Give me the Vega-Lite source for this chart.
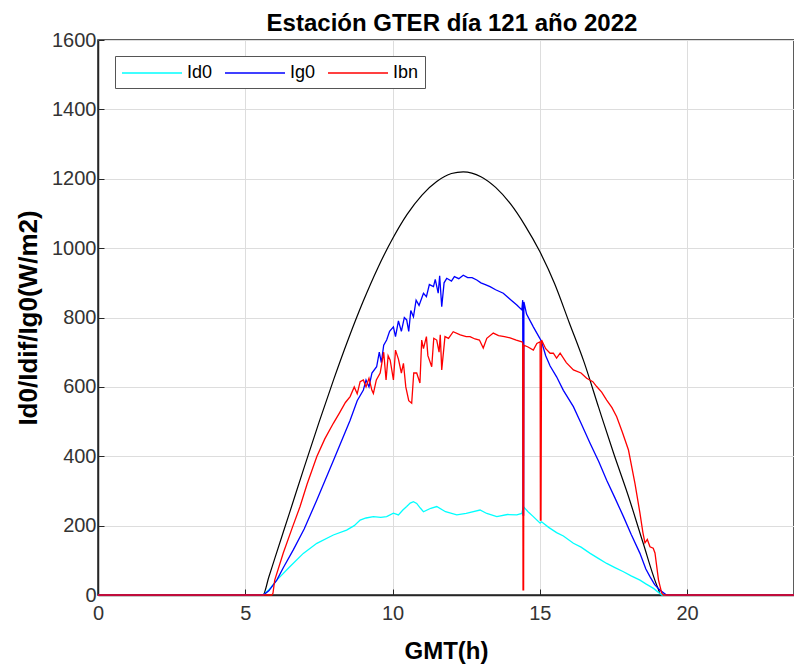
{
  "$schema": "https://vega.github.io/schema/vega-lite/v6.json",
  "autosize": {"type": "none"},
  "padding": {"left": 98, "top": 40, "right": 0, "bottom": 76},
  "width": 696,
  "height": 555,
  "background": "white",
  "title": {"text": "Estación GTER día 121 año 2022", "fontSize": 24, "font": "Liberation Sans", "fontWeight": "bold", "color": "#000000", "offset": -6, "dx": 6, "anchor": "middle"},
  "config": {
    "view": {"stroke": "#262626", "strokeWidth": 1.5},
    "font": "Liberation Sans",
    "axis": {"labelFont": "Liberation Sans", "titleFont": "Liberation Sans", "labelColor": "#333333", "titleColor": "#000000", "domainColor": "#262626", "domainWidth": 1.5, "tickColor": "#262626", "gridColor": "#dddddd", "gridWidth": 1, "labelFontSize": 20, "titleFontWeight": "bold", "labelFlush": false}
  },
  "datasets": {
    "d": [
      {"t":0,"v":0,"s":"Ext"},{"t":5.6,"v":0,"s":"Ext"},{"t":5.8,"v":52,"s":"Ext"},{"t":6,"v":105,"s":"Ext"},{"t":6.5,"v":236,"s":"Ext"},{"t":7,"v":368,"s":"Ext"},{"t":7.5,"v":497,"s":"Ext"},{"t":8,"v":621,"s":"Ext"},{"t":8.5,"v":738,"s":"Ext"},{"t":9,"v":846,"s":"Ext"},{"t":9.5,"v":943,"s":"Ext"},{"t":10,"v":1027,"s":"Ext"},{"t":10.5,"v":1098,"s":"Ext"},{"t":11,"v":1153,"s":"Ext"},{"t":11.5,"v":1192,"s":"Ext"},{"t":12,"v":1215,"s":"Ext"},{"t":12.4,"v":1220,"s":"Ext"},{"t":13,"v":1206,"s":"Ext"},{"t":13.5,"v":1175,"s":"Ext"},{"t":14,"v":1128,"s":"Ext"},{"t":14.5,"v":1065,"s":"Ext"},{"t":15,"v":990,"s":"Ext"},{"t":15.5,"v":898,"s":"Ext"},{"t":16,"v":785,"s":"Ext"},{"t":16.5,"v":672,"s":"Ext"},{"t":17,"v":540,"s":"Ext"},{"t":17.5,"v":410,"s":"Ext"},{"t":18,"v":287,"s":"Ext"},{"t":18.5,"v":152,"s":"Ext"},{"t":19,"v":22,"s":"Ext"},{"t":19.12,"v":0,"s":"Ext"},{"t":23.63,"v":0,"s":"Ext"},

      {"t":0,"v":0,"s":"Id0"},{"t":5.61,"v":0,"s":"Id0"},{"t":5.8,"v":15,"s":"Id0"},{"t":6.07,"v":43,"s":"Id0"},{"t":6.52,"v":82,"s":"Id0"},{"t":6.97,"v":120,"s":"Id0"},{"t":7.43,"v":149,"s":"Id0"},{"t":7.99,"v":173,"s":"Id0"},{"t":8.44,"v":187,"s":"Id0"},{"t":8.7,"v":200,"s":"Id0"},{"t":8.9,"v":216,"s":"Id0"},{"t":9.1,"v":222,"s":"Id0"},{"t":9.35,"v":226,"s":"Id0"},{"t":9.6,"v":224,"s":"Id0"},{"t":9.8,"v":226,"s":"Id0"},{"t":10.03,"v":236,"s":"Id0"},{"t":10.2,"v":231,"s":"Id0"},{"t":10.35,"v":245,"s":"Id0"},{"t":10.48,"v":255,"s":"Id0"},{"t":10.6,"v":265,"s":"Id0"},{"t":10.71,"v":269,"s":"Id0"},{"t":10.82,"v":264,"s":"Id0"},{"t":10.95,"v":250,"s":"Id0"},{"t":11.05,"v":240,"s":"Id0"},{"t":11.3,"v":250,"s":"Id0"},{"t":11.5,"v":255,"s":"Id0"},{"t":11.8,"v":240,"s":"Id0"},{"t":12.18,"v":231,"s":"Id0"},{"t":12.5,"v":235,"s":"Id0"},{"t":12.97,"v":245,"s":"Id0"},{"t":13.2,"v":235,"s":"Id0"},{"t":13.54,"v":226,"s":"Id0"},{"t":13.9,"v":232,"s":"Id0"},{"t":14.22,"v":231,"s":"Id0"},{"t":14.39,"v":235,"s":"Id0"},{"t":14.44,"v":255,"s":"Id0"},{"t":14.6,"v":240,"s":"Id0"},{"t":14.78,"v":226,"s":"Id0"},{"t":15.01,"v":207,"s":"Id0"},{"t":15.06,"v":211,"s":"Id0"},{"t":15.3,"v":195,"s":"Id0"},{"t":15.57,"v":180,"s":"Id0"},{"t":15.8,"v":170,"s":"Id0"},{"t":16.14,"v":149,"s":"Id0"},{"t":16.4,"v":138,"s":"Id0"},{"t":16.71,"v":120,"s":"Id0"},{"t":17,"v":105,"s":"Id0"},{"t":17.27,"v":91,"s":"Id0"},{"t":17.55,"v":79,"s":"Id0"},{"t":17.84,"v":67,"s":"Id0"},{"t":18.1,"v":55,"s":"Id0"},{"t":18.4,"v":43,"s":"Id0"},{"t":18.6,"v":32,"s":"Id0"},{"t":18.86,"v":19,"s":"Id0"},{"t":19.14,"v":0,"s":"Id0"},{"t":23.63,"v":0,"s":"Id0"},

      {"t":0,"v":0,"s":"Ig0"},{"t":5.61,"v":0,"s":"Ig0"},{"t":5.8,"v":12,"s":"Ig0"},{"t":6.07,"v":43,"s":"Ig0"},{"t":6.3,"v":80,"s":"Ig0"},{"t":6.63,"v":130,"s":"Ig0"},{"t":7,"v":190,"s":"Ig0"},{"t":7.43,"v":274,"s":"Ig0"},{"t":8,"v":389,"s":"Ig0"},{"t":8.56,"v":504,"s":"Ig0"},{"t":8.8,"v":560,"s":"Ig0"},{"t":9.01,"v":591,"s":"Ig0"},{"t":9.1,"v":620,"s":"Ig0"},{"t":9.2,"v":600,"s":"Ig0"},{"t":9.3,"v":640,"s":"Ig0"},{"t":9.46,"v":658,"s":"Ig0"},{"t":9.55,"v":700,"s":"Ig0"},{"t":9.62,"v":670,"s":"Ig0"},{"t":9.7,"v":720,"s":"Ig0"},{"t":9.8,"v":735,"s":"Ig0"},{"t":9.9,"v":760,"s":"Ig0"},{"t":10.03,"v":773,"s":"Ig0"},{"t":10.1,"v":745,"s":"Ig0"},{"t":10.2,"v":790,"s":"Ig0"},{"t":10.3,"v":760,"s":"Ig0"},{"t":10.4,"v":800,"s":"Ig0"},{"t":10.48,"v":793,"s":"Ig0"},{"t":10.55,"v":760,"s":"Ig0"},{"t":10.62,"v":820,"s":"Ig0"},{"t":10.71,"v":802,"s":"Ig0"},{"t":10.8,"v":850,"s":"Ig0"},{"t":10.9,"v":835,"s":"Ig0"},{"t":11.05,"v":870,"s":"Ig0"},{"t":11.15,"v":860,"s":"Ig0"},{"t":11.25,"v":895,"s":"Ig0"},{"t":11.39,"v":889,"s":"Ig0"},{"t":11.45,"v":910,"s":"Ig0"},{"t":11.55,"v":870,"s":"Ig0"},{"t":11.6,"v":920,"s":"Ig0"},{"t":11.67,"v":831,"s":"Ig0"},{"t":11.75,"v":900,"s":"Ig0"},{"t":11.84,"v":913,"s":"Ig0"},{"t":12,"v":905,"s":"Ig0"},{"t":12.1,"v":918,"s":"Ig0"},{"t":12.25,"v":912,"s":"Ig0"},{"t":12.4,"v":922,"s":"Ig0"},{"t":12.55,"v":915,"s":"Ig0"},{"t":12.7,"v":915,"s":"Ig0"},{"t":12.86,"v":908,"s":"Ig0"},{"t":13,"v":900,"s":"Ig0"},{"t":13.15,"v":895,"s":"Ig0"},{"t":13.31,"v":889,"s":"Ig0"},{"t":13.5,"v":880,"s":"Ig0"},{"t":13.76,"v":870,"s":"Ig0"},{"t":14,"v":852,"s":"Ig0"},{"t":14.22,"v":836,"s":"Ig0"},{"t":14.39,"v":822,"s":"Ig0"},{"t":14.42,"v":850,"s":"Ig0"},{"t":14.43,"v":230,"s":"Ig0"},{"t":14.45,"v":230,"s":"Ig0"},{"t":14.46,"v":845,"s":"Ig0"},{"t":14.55,"v":810,"s":"Ig0"},{"t":14.78,"v":773,"s":"Ig0"},{"t":15,"v":740,"s":"Ig0"},{"t":15.06,"v":730,"s":"Ig0"},{"t":15.2,"v":690,"s":"Ig0"},{"t":15.35,"v":660,"s":"Ig0"},{"t":15.57,"v":629,"s":"Ig0"},{"t":15.8,"v":590,"s":"Ig0"},{"t":16.14,"v":543,"s":"Ig0"},{"t":16.4,"v":495,"s":"Ig0"},{"t":16.71,"v":437,"s":"Ig0"},{"t":17,"v":385,"s":"Ig0"},{"t":17.27,"v":331,"s":"Ig0"},{"t":17.55,"v":280,"s":"Ig0"},{"t":17.84,"v":226,"s":"Ig0"},{"t":18.1,"v":175,"s":"Ig0"},{"t":18.4,"v":120,"s":"Ig0"},{"t":18.6,"v":75,"s":"Ig0"},{"t":18.74,"v":53,"s":"Ig0"},{"t":18.9,"v":30,"s":"Ig0"},{"t":19.08,"v":14,"s":"Ig0"},{"t":19.3,"v":0,"s":"Ig0"},{"t":23.63,"v":0,"s":"Ig0"},

      {"t":0,"v":0,"s":"Ibn"},{"t":5.9,"v":0,"s":"Ibn"},{"t":5.94,"v":5,"s":"Ibn"},{"t":6,"v":43,"s":"Ibn"},{"t":6.29,"v":121,"s":"Ibn"},{"t":6.6,"v":195,"s":"Ibn"},{"t":6.86,"v":255,"s":"Ibn"},{"t":7.1,"v":320,"s":"Ibn"},{"t":7.43,"v":399,"s":"Ibn"},{"t":7.7,"v":450,"s":"Ibn"},{"t":7.99,"v":495,"s":"Ibn"},{"t":8.2,"v":525,"s":"Ibn"},{"t":8.4,"v":555,"s":"Ibn"},{"t":8.56,"v":572,"s":"Ibn"},{"t":8.7,"v":600,"s":"Ibn"},{"t":8.8,"v":580,"s":"Ibn"},{"t":8.9,"v":615,"s":"Ibn"},{"t":9.01,"v":620,"s":"Ibn"},{"t":9.1,"v":600,"s":"Ibn"},{"t":9.2,"v":625,"s":"Ibn"},{"t":9.3,"v":590,"s":"Ibn"},{"t":9.35,"v":581,"s":"Ibn"},{"t":9.45,"v":620,"s":"Ibn"},{"t":9.58,"v":640,"s":"Ibn"},{"t":9.7,"v":700,"s":"Ibn"},{"t":9.78,"v":620,"s":"Ibn"},{"t":9.85,"v":690,"s":"Ibn"},{"t":9.92,"v":677,"s":"Ibn"},{"t":10.03,"v":620,"s":"Ibn"},{"t":10.1,"v":706,"s":"Ibn"},{"t":10.2,"v":680,"s":"Ibn"},{"t":10.3,"v":640,"s":"Ibn"},{"t":10.37,"v":668,"s":"Ibn"},{"t":10.45,"v":600,"s":"Ibn"},{"t":10.55,"v":560,"s":"Ibn"},{"t":10.65,"v":553,"s":"Ibn"},{"t":10.72,"v":640,"s":"Ibn"},{"t":10.82,"v":640,"s":"Ibn"},{"t":10.93,"v":611,"s":"Ibn"},{"t":10.99,"v":735,"s":"Ibn"},{"t":11.05,"v":710,"s":"Ibn"},{"t":11.15,"v":745,"s":"Ibn"},{"t":11.2,"v":690,"s":"Ibn"},{"t":11.33,"v":658,"s":"Ibn"},{"t":11.4,"v":740,"s":"Ibn"},{"t":11.5,"v":735,"s":"Ibn"},{"t":11.58,"v":700,"s":"Ibn"},{"t":11.62,"v":750,"s":"Ibn"},{"t":11.67,"v":649,"s":"Ibn"},{"t":11.78,"v":745,"s":"Ibn"},{"t":11.9,"v":740,"s":"Ibn"},{"t":12.06,"v":759,"s":"Ibn"},{"t":12.3,"v":750,"s":"Ibn"},{"t":12.5,"v":745,"s":"Ibn"},{"t":12.63,"v":745,"s":"Ibn"},{"t":12.8,"v":738,"s":"Ibn"},{"t":12.95,"v":735,"s":"Ibn"},{"t":13.08,"v":712,"s":"Ibn"},{"t":13.2,"v":740,"s":"Ibn"},{"t":13.42,"v":755,"s":"Ibn"},{"t":13.6,"v":748,"s":"Ibn"},{"t":13.8,"v":745,"s":"Ibn"},{"t":13.99,"v":741,"s":"Ibn"},{"t":14.2,"v":735,"s":"Ibn"},{"t":14.39,"v":730,"s":"Ibn"},{"t":14.42,"v":728,"s":"Ibn"},{"t":14.43,"v":15,"s":"Ibn"},{"t":14.45,"v":15,"s":"Ibn"},{"t":14.46,"v":720,"s":"Ibn"},{"t":14.6,"v":715,"s":"Ibn"},{"t":14.78,"v":706,"s":"Ibn"},{"t":14.9,"v":725,"s":"Ibn"},{"t":15.01,"v":730,"s":"Ibn"},{"t":15.02,"v":216,"s":"Ibn"},{"t":15.04,"v":216,"s":"Ibn"},{"t":15.06,"v":735,"s":"Ibn"},{"t":15.2,"v":710,"s":"Ibn"},{"t":15.35,"v":697,"s":"Ibn"},{"t":15.46,"v":697,"s":"Ibn"},{"t":15.57,"v":683,"s":"Ibn"},{"t":15.69,"v":697,"s":"Ibn"},{"t":15.9,"v":670,"s":"Ibn"},{"t":16.14,"v":649,"s":"Ibn"},{"t":16.4,"v":640,"s":"Ibn"},{"t":16.59,"v":625,"s":"Ibn"},{"t":16.8,"v":615,"s":"Ibn"},{"t":16.93,"v":601,"s":"Ibn"},{"t":17.1,"v":585,"s":"Ibn"},{"t":17.27,"v":562,"s":"Ibn"},{"t":17.45,"v":540,"s":"Ibn"},{"t":17.61,"v":514,"s":"Ibn"},{"t":17.8,"v":470,"s":"Ibn"},{"t":18.01,"v":418,"s":"Ibn"},{"t":18.23,"v":322,"s":"Ibn"},{"t":18.4,"v":236,"s":"Ibn"},{"t":18.5,"v":180,"s":"Ibn"},{"t":18.57,"v":150,"s":"Ibn"},{"t":18.65,"v":160,"s":"Ibn"},{"t":18.74,"v":139,"s":"Ibn"},{"t":18.85,"v":135,"s":"Ibn"},{"t":18.91,"v":121,"s":"Ibn"},{"t":19.03,"v":43,"s":"Ibn"},{"t":19.14,"v":5,"s":"Ibn"},{"t":19.2,"v":0,"s":"Ibn"},{"t":23.63,"v":0,"s":"Ibn"}
    ]
  },
  "data": {"name": "d"},
  "encoding": {
    "x": {"field": "t", "type": "quantitative", "scale": {"domain": [0, 23.63], "nice": false, "zero": false},
      "axis": {"title": "GMT(h)", "titleFontSize": 24, "values": [0, 5, 10, 15, 20], "tickSize": -6, "labelPadding": 14, "titlePadding": 16, "grid": true}},
    "y": {"field": "v", "type": "quantitative", "scale": {"domain": [0, 1600], "nice": false},
      "axis": {"title": "Id0/Idif/Ig0(W/m2)", "titleFontSize": 26, "format": "d", "values": [0, 200, 400, 600, 800, 1000, 1200, 1400, 1600], "tickSize": -6, "labelPadding": 8, "titlePadding": 10, "grid": true}}
  },
  "layer": [
    {"transform": [{"filter": "datum.s === 'Ext'"}], "mark": {"type": "line", "color": "#000000", "strokeWidth": 1.2, "interpolate": "monotone"}},
    {"transform": [{"filter": "datum.s === 'Id0'"}], "mark": {"type": "line", "strokeWidth": 1.3},
      "encoding": {"color": {"field": "s", "type": "nominal", "scale": {"domain": ["Id0", "Ig0", "Ibn"], "range": ["#00ffff", "#0000ff", "#ff0000"]},
        "legend": {"title": null, "orient": "none", "legendX": 17, "legendY": 16, "direction": "horizontal", "symbolType": "M-1,0H5", "symbolSize": 400, "symbolStrokeWidth": 1.5, "labelFontSize": 18, "labelColor": "#000000", "labelFont": "Liberation Sans", "strokeColor": "#555555", "fillColor": "#ffffff", "padding": 6, "columnPadding": 9, "labelOffset": 44}}}},
    {"transform": [{"filter": "datum.s === 'Ig0'"}], "mark": {"type": "line", "strokeWidth": 1.3}, "encoding": {"color": {"field": "s", "type": "nominal"}}},
    {"transform": [{"filter": "datum.s === 'Ibn'"}], "mark": {"type": "line", "strokeWidth": 1.3}, "encoding": {"color": {"field": "s", "type": "nominal"}}}
  ]
}
